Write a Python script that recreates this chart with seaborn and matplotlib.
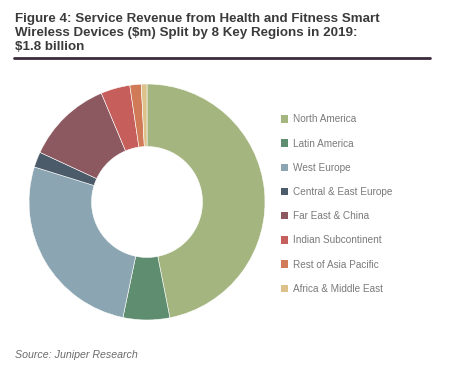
import matplotlib
matplotlib.use("Agg")
import matplotlib.pyplot as plt
import seaborn as sns
from matplotlib.patches import Patch

# data ($m), 2019
regions = ["North America", "Latin America", "West Europe", "Central & East Europe",
           "Far East & China", "Indian Subcontinent", "Rest of Asia Pacific",
           "Africa & Middle East"]
revenue = [845, 115, 478, 38, 212, 72, 28, 14]
colors = ["#a4b57f", "#5f8d6f", "#8ba5b2", "#4b5b69",
          "#8d5961", "#c65f5c", "#d07a57", "#dcc18a"]

sns.set_style("white")
plt.rcParams["font.family"] = ["Liberation Sans", "DejaVu Sans"]

fig = plt.figure(figsize=(4.62, 3.74), dpi=100)
ax = fig.add_axes([0.0628, 0.1444, 0.5108, 0.631])

ax.pie(revenue, colors=sns.color_palette(colors), startangle=90, counterclock=False,
       radius=1, wedgeprops=dict(width=0.53, edgecolor="white", linewidth=0.4))
ax.set_xlim(-1, 1)
ax.set_ylim(-1, 1)
ax.set_aspect("equal")
ax.axis("off")

handles = [Patch(facecolor=c, edgecolor="none") for c in colors]
leg = fig.legend(handles, regions, loc="upper left", bbox_to_anchor=(0.599, 0.705),
                 frameon=False, fontsize=7.2, handlelength=0.75, handleheight=0.75,
                 handletextpad=0.5, labelspacing=1.42, borderaxespad=0)
for t in leg.get_texts():
    t.set_color("#7a7a7a")

fig.text(0.032, 0.966, "Figure 4: Service Revenue from Health and Fitness Smart\n"
         "Wireless Devices ($m) Split by 8 Key Regions in 2019:\n$1.8 billion",
         ha="left", va="top", fontsize=9.6, fontweight="bold", color="#3b3b3b",
         linespacing=1.24)
fig.add_artist(plt.Line2D([0.03, 0.93], [0.845, 0.845], color="#3a2b3a", linewidth=2))

fig.text(0.032, 0.051, "Source: Juniper Research", ha="left", va="center",
         fontsize=7.7, fontstyle="italic", color="#6b6b6b")

fig.savefig("out.png", dpi=100, facecolor="white")
